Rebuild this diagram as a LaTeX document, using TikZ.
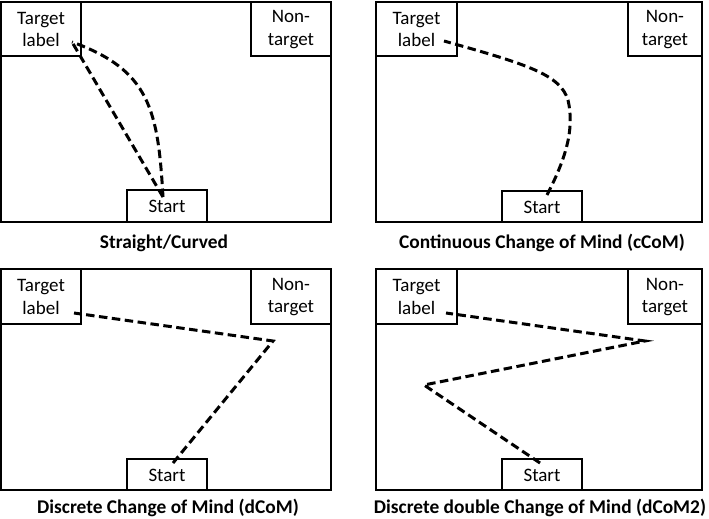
\documentclass[tikz,border=0pt]{standalone}
\usepackage{fontspec}
\setmainfont{Carlito}
\begin{document}
\begin{tikzpicture}[x=1pt,y=-1pt,
  frame/.style={draw=black,line width=1.4pt},
  lbl/.style={font=\fontsize{19}{22.5}\selectfont,align=center,inner sep=0pt},
  captxt/.style={font=\fontsize{19.4}{23}\selectfont\bfseries,inner sep=0pt},
  traj/.style={draw=black,line width=3pt,dash pattern=on 8.5pt off 4.5pt}]
\useasboundingbox (0,0) rectangle (709,519);
\fill[white] (0,0) rectangle (709,519);
% ---------- Panel 1 ----------
\draw[frame] (1,2) rectangle (331,222);
\draw[frame] (1,2) rectangle (81,56);
\draw[frame] (251,2) rectangle (331,56);
\draw[frame] (127,190) rectangle (207,222);
\node[lbl] (t1) at (41,29.5) {Target\\label};
\node[lbl] (n1) at (291,29.5) {Non-\\target};
\node[lbl] (s1) at (167,206.5) {Start};
\node[captxt] (c1) at (164,243) {Straight/Curved};
\coordinate (p1a) at (163,197);
\coordinate (p1b) at (72,42);
\draw[traj] (p1a) -- (p1b);
\draw[traj] (p1a) .. controls (158,110) and (150,70) .. (p1b);
% ---------- Panel 2 ----------
\draw[frame] (376,2) rectangle (702,222);
\draw[frame] (376,2) rectangle (457,56);
\draw[frame] (628,2) rectangle (702,56);
\draw[frame] (502,191) rectangle (582,222);
\node[lbl] (t2) at (416.5,29.5) {Target\\label};
\node[lbl] (n2) at (665,29.5) {Non-\\target};
\node[lbl] (s2) at (542,207) {Start};
\node[captxt] (c2) at (542,243) {Continuous Change of Mind (cCoM)};
\coordinate (p2a) at (547,195);
\coordinate (p2m) at (568,100);
\coordinate (p2b) at (444,41);
\draw[traj] (p2a) .. controls (565,160) and (575,130) .. (p2m)
  .. controls (560,75) and (530,65) .. (p2b);
% ---------- Panel 3 ----------
\draw[frame] (1,269) rectangle (331,490);
\draw[frame] (1,269) rectangle (81,324);
\draw[frame] (251,269) rectangle (331,324);
\draw[frame] (127,459) rectangle (207,490);
\node[lbl] (t3) at (41,297) {Target\\label};
\node[lbl] (n3) at (291,297) {Non-\\target};
\node[lbl] (s3) at (167,475) {Start};
\node[captxt] (c3) at (168,508) {Discrete Change of Mind (dCoM)};
\coordinate (p3a) at (173,463);
\coordinate (p3m) at (273,341);
\coordinate (p3b) at (74,313);
\draw[traj] (p3a) -- (p3m) -- (p3b);
% ---------- Panel 4 ----------
\draw[frame] (376,269) rectangle (702,490);
\draw[frame] (376,269) rectangle (457,324);
\draw[frame] (628,269) rectangle (702,324);
\draw[frame] (502,459) rectangle (582,490);
\node[lbl] (t4) at (416.5,297) {Target\\label};
\node[lbl] (n4) at (665,297) {Non-\\target};
\node[lbl] (s4) at (542,475) {Start};
\node[captxt] (c4) at (540,508) {Discrete double Change of Mind (dCoM2)};
\coordinate (p4a) at (540,463);
\coordinate (p4m) at (424,385);
\coordinate (p4n) at (645,341);
\coordinate (p4b) at (446,313);
\draw[traj] (p4a) -- (p4m) -- (p4n) -- (p4b);
\end{tikzpicture}
\end{document}
